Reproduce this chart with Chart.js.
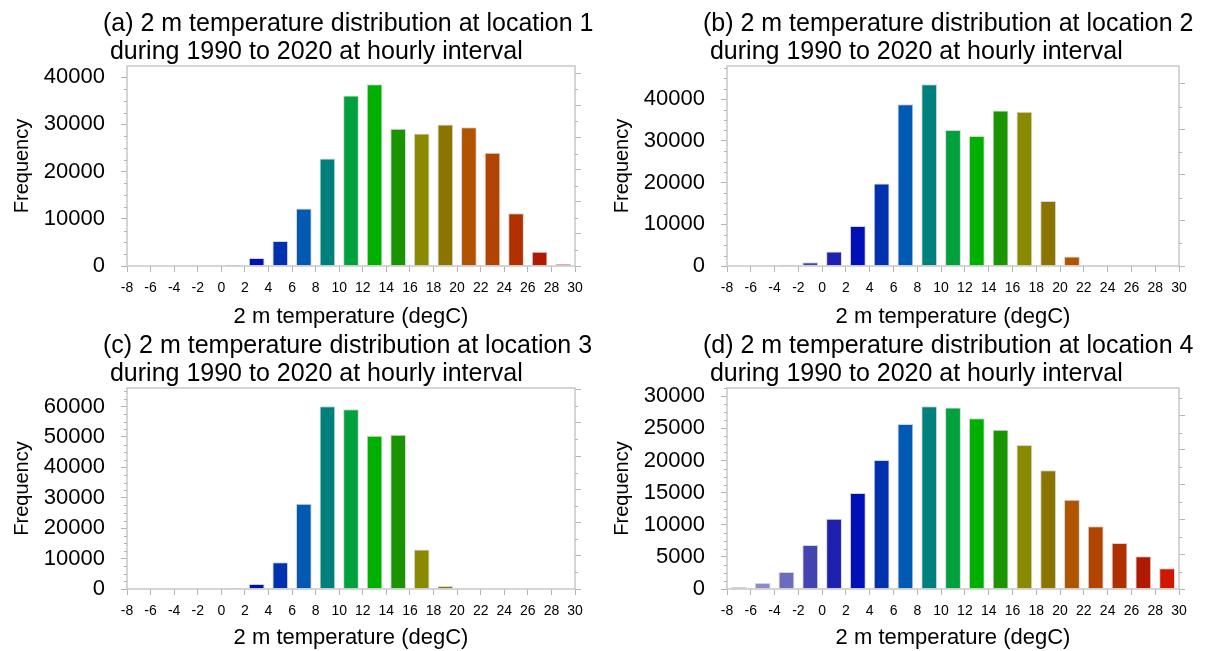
<!DOCTYPE html>
<html>
<head>
<meta charset="utf-8">
<script src="https://cdn.jsdelivr.net/npm/chart.js@4.4.1/dist/chart.umd.min.js"></script>
<style>
  html, body { margin: 0; padding: 0; background: #fff; }
  #wrap { position: relative; width: 1215px; height: 651px; overflow: hidden; }
  canvas { position: absolute; }
</style>
</head>
<body>
<div id="wrap">
  <canvas id="p1" width="607" height="330" style="left:0;top:0"></canvas>
  <canvas id="p2" width="615" height="330" style="left:600px;top:0"></canvas>
  <canvas id="p3" width="607" height="329" style="left:0;top:322px"></canvas>
  <canvas id="p4" width="615" height="329" style="left:600px;top:322px"></canvas>
</div>
<script>
// bin centres (degC), 2-degree bins from -8 to 30
const binCenters = [-7, -5, -3, -1, 1, 3, 5, 7, 9, 11, 13, 15, 17, 19, 21, 23, 25, 27, 29];

// hourly counts per bin, 1990-2020
const loc1 = [0, 0, 0, 140, 280, 1690, 5290, 12200, 22790, 36120, 38520, 29070, 28080, 29980, 29420, 23990, 11150, 3030, 420];
const loc2 = [0, 150, 300, 880, 3500, 9600, 19760, 38800, 43600, 32640, 31200, 37300, 37000, 15600, 2300, 250, 0, 0, 0];
const loc3 = [0, 0, 0, 0, 330, 1650, 8800, 28000, 60100, 59100, 50400, 50770, 13000, 1000, 220, 0, 0, 0, 0];
const loc4 = [310, 930, 2650, 6850, 10950, 14950, 20080, 25690, 28440, 28230, 26570, 24800, 22420, 18470, 13900, 9760, 7160, 5090, 3220];

const barColors = [
  '#a6a6b8', '#8c8cc4', '#6c6cbc', '#4444b0', '#2020b0', '#0010b8', '#0032b0',
  '#005ab4', '#00807c', '#00a03c', '#00b000', '#1a9400', '#8a8a00', '#8c7400',
  '#b05400', '#b04400', '#b03000', '#b01a00', '#d01800'
];

const titles = [
  '(a) 2 m temperature distribution at location 1',
  '(b) 2 m temperature distribution at location 2',
  '(c) 2 m temperature distribution at location 3',
  '(d) 2 m temperature distribution at location 4'
];
const subTitle = ' during 1990 to 2020 at hourly interval';

const leftSteps = [10000, 10000, 10000, 5000];
const pctSteps = [2.5, 4, 4, 2];

const FONT = '"Liberation Sans", Arial, Helvetica, sans-serif';
const AXIS_GRAY = '#b4b4b4';

// ticks at whole multiples of step, from 0 up to the axis max
function stepTicks(step) {
  return scale => {
    const t = [];
    for (let i = 0; i * step <= scale.max + 1e-9; i++) t.push({ value: i * step });
    scale.ticks = t;
  };
}

// frame, minor ticks and the two-line panel title
const nclFrame = {
  id: 'nclFrame',
  afterDraw(chart, args, opts) {
    const { ctx, chartArea: a, scales } = chart;
    ctx.save();
    ctx.strokeStyle = '#c8c8c8';
    ctx.lineWidth = 1.5;
    ctx.strokeRect(a.left, a.top, a.right - a.left, a.bottom - a.top);

    ctx.strokeStyle = AXIS_GRAY;
    ctx.lineWidth = 1;
    const tick = (x0, x1, py) => {
      py = Math.round(py) + 0.5;
      ctx.beginPath(); ctx.moveTo(x0, py); ctx.lineTo(x1, py); ctx.stroke();
    };
    const y = scales.y, y2 = scales.y2;
    const ms = opts.leftStep / 4;
    for (let i = 1; i * ms <= y.max; i++) {
      if (i % 4 === 0) continue;
      tick(a.left - 3, a.left, y.getPixelForValue(i * ms));
    }
    const rs = opts.pctStep / 2;
    for (let i = 1; i * rs <= y2.max; i += 2) {
      tick(a.right, a.right + 3, y2.getPixelForValue(i * rs));
    }

    ctx.fillStyle = '#000';
    ctx.font = '25px ' + FONT;
    ctx.textAlign = 'left';
    ctx.textBaseline = 'alphabetic';
    ctx.fillText(opts.title, a.left - 24, a.top - 35);
    ctx.fillText(subTitle, a.left - 24, a.top - 7);
    ctx.restore();
  }
};

function makePanel(id, values, idx, rightPad, bottomSpace) {
  const total = values.reduce((s, v) => s + v, 0);
  const ymax = Math.max(...values) * 1.1;
  new Chart(document.getElementById(id), {
    type: 'bar',
    data: {
      datasets: [{
        data: binCenters.map((x, i) => ({ x: x, y: values[i] })),
        backgroundColor: barColors,
        borderColor: '#d6d6d6',
        borderWidth: 1,
        categoryPercentage: 1,
        barPercentage: 0.665
      }]
    },
    plugins: [nclFrame],
    options: {
      responsive: false,
      animation: false,
      devicePixelRatio: 1,
      layout: { padding: { top: 66, left: 0, right: 0, bottom: 0 } },
      plugins: {
        legend: { display: false },
        tooltip: { enabled: false },
        nclFrame: { title: titles[idx], leftStep: leftSteps[idx], pctStep: pctSteps[idx] }
      },
      scales: {
        x: {
          type: 'linear',
          min: -8, max: 30,
          offset: false,
          afterFit: s => { s.height = bottomSpace; },
          afterBuildTicks: s => {
            const t = [];
            for (let v = -8; v <= 30; v += 2) t.push({ value: v });
            s.ticks = t;
          },
          border: { display: false },
          grid: { offset: false, drawOnChartArea: false, drawTicks: true, tickLength: 6, color: AXIS_GRAY },
          ticks: { autoSkip: false, maxRotation: 0, padding: 8, color: '#000', font: { family: FONT, size: 14 } },
          title: { display: true, text: '2 m temperature (degC)', color: '#000', padding: { top: 0, bottom: 0 }, font: { family: FONT, size: 22 } }
        },
        y: {
          position: 'left',
          min: 0, max: ymax,
          afterFit: s => { s.width = 127; },
          afterBuildTicks: stepTicks(leftSteps[idx]),
          border: { display: false },
          grid: { drawOnChartArea: false, tickLength: 6, color: AXIS_GRAY },
          ticks: { autoSkip: false, padding: 16, color: '#000',
                   font: { family: FONT, size: 22 }, callback: v => String(Math.round(v)) },
          title: { display: true, text: 'Frequency', color: '#000', padding: { top: 10, bottom: 0 }, font: { family: FONT, size: 20 } }
        },
        y2: {
          position: 'right',
          min: 0, max: ymax / total * 100,
          afterFit: s => { s.width = rightPad; },
          afterBuildTicks: stepTicks(pctSteps[idx]),
          border: { display: false },
          grid: { drawOnChartArea: false, tickLength: 6, color: AXIS_GRAY },
          ticks: { display: false }
        }
      }
    }
  });
}

makePanel('p1', loc1, 0, 32, 64);
makePanel('p2', loc2, 1, 36, 64);
makePanel('p3', loc3, 2, 32, 62);
makePanel('p4', loc4, 3, 36, 62);
</script>
</body>
</html>
